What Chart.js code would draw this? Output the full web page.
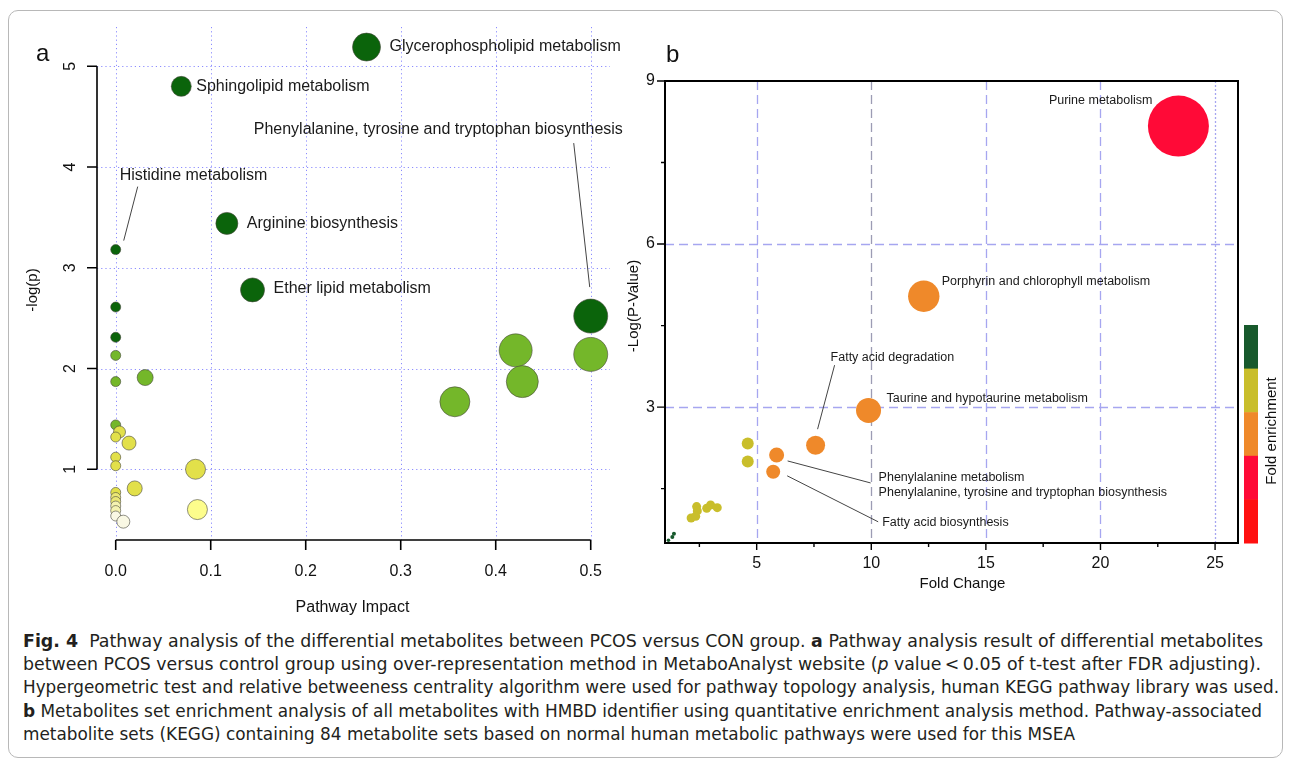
<!DOCTYPE html>
<html>
<head>
<meta charset="utf-8">
<script src="https://cdn.jsdelivr.net/npm/chart.js@4.4.1/dist/chart.umd.min.js"></script>
<style>
  body { margin: 0; background: #fff; width: 1290px; height: 768px; position: relative; overflow: hidden; }
  #frame { position: absolute; left: 8px; top: 10px; width: 1275px; height: 748px; border: 1px solid #b8b8b8; border-radius: 10px; box-sizing: border-box; }
  #boxA { position: absolute; left: 0; top: 0; width: 623px; height: 630px; }
  #boxB { position: absolute; left: 623px; top: 0; width: 667px; height: 630px; }
  .cap { position: absolute; left: 23px; white-space: nowrap; display: inline-block; font-family: 'Liberation Sans Narrow', 'DejaVu Sans Condensed', sans-serif; font-size: 18px; line-height: 20px; color: #231f20; transform-origin: 0 50%; }
</style>
</head>
<body>
<div id="frame"></div>
<div id="boxA"><canvas id="chartA"></canvas></div>
<div id="boxB"><canvas id="chartB"></canvas></div>

<div class="cap" style="top:631px" data-w="1240"><b>Fig. 4</b>&nbsp; Pathway analysis of the differential metabolites between PCOS versus CON group. <b>a</b> Pathway analysis result of differential metabolites</div>
<div class="cap" style="top:654px" data-w="1238">between PCOS versus control group using over-representation method in MetaboAnalyst website (<i>p</i> value&thinsp;&lt;&thinsp;0.05 of t-test after FDR adjusting).</div>
<div class="cap" style="top:677px" data-w="1256">Hypergeometric test and relative betweeness centrality algorithm were used for pathway topology analysis, human KEGG pathway library was used.</div>
<div class="cap" style="top:701px" data-w="1239"><b>b</b> Metabolites set enrichment analysis of all metabolites with HMBD identifier using quantitative enrichment analysis method. Pathway-associated</div>
<div class="cap" style="top:724px" data-w="1052">metabolite sets (KEGG) containing 84 metabolite sets based on normal human metabolic pathways were used for this MSEA</div>

<script>
// ---- panel a: pathway impact vs -log(p), ordered by -log(p) ----
const pathA = [
  'Glycerophospholipid metabolism', 'Sphingolipid metabolism', 'Arginine biosynthesis', 'Histidine metabolism',
  'Ether lipid metabolism', '', 'Phenylalanine, tyrosine and tryptophan biosynthesis', '',
  '', '', '', '', '', '', '', '',
  '', '', '', '', '', '', '', '',
  '', '', '', '', '', '', ''
];
const impactA = [0.264, 0.069, 0.117, 0, 0.144, 0, 0.5, 0,
  0.421, 0.5, 0, 0.031, 0, 0.428, 0.357, 0,
  0.004, 0, 0.014, 0, 0, 0.084, 0.02, 0,
  0, 0, 0, 0.086, 0, 0, 0.008];
const logpA = [5.19, 4.80, 3.44, 3.18, 2.78, 2.61, 2.52, 2.31,
  2.18, 2.14, 2.13, 1.91, 1.87, 1.87, 1.67, 1.44,
  1.37, 1.32, 1.26, 1.12, 1.035, 1.0, 0.81, 0.77,
  0.72, 0.68, 0.635, 0.60, 0.59, 0.536, 0.48];
const sizeA = [14, 10, 11, 5, 12, 5, 17, 5,
  16.5, 17, 5, 8, 5, 16, 15, 5,
  6, 5, 7, 5, 5, 10, 7.5, 5,
  5, 5, 5, 10, 5, 5, 6.5];
const groupA = [0, 0, 0, 0, 0, 0, 0, 0,
  1, 1, 1, 1, 1, 1, 1, 1,
  2, 2, 2, 2, 2, 2, 2, 2,
  3, 3, 4, 5, 4, 6, 6];
const impactTicks = [0, 0.1, 0.2, 0.3, 0.4, 0.5];
const logpTicks = [1, 2, 3, 4, 5];

// ---- panel b: fold change vs -log(p-value) ----
const pathB = [
  'Purine metabolism', 'Porphyrin and chlorophyll metabolism', 'Taurine and hypotaurine metabolism',
  'Fatty acid degradation', 'Phenylalanine metabolism\nPhenylalanine, tyrosine and tryptophan biosynthesis',
  'Fatty acid biosynthesis', '', '', '', '', '', '', '', '', '', '', '', ''
];
const foldB = [23.4, 12.29, 9.88, 7.57, 5.87, 5.72, 4.61, 4.61, 2.38, 2.41, 2.14, 2.34, 2.82, 2.99, 3.28, 1.39, 1.32, 1.15];
const logpB = [8.17, 5.04, 2.94, 2.30, 2.12, 1.81, 2.33, 2.00, 1.17, 1.09, 0.96, 0.99, 1.14, 1.20, 1.15, 0.67, 0.61, 0.55];
const sizeB = [30.5, 15.7, 12.5, 9.5, 7.5, 7, 6, 6, 4.5, 4.5, 4.5, 4.5, 4.5, 4.5, 4.5, 2, 2, 1.8];
const enrichB = [3, 2, 2, 2, 2, 2, 1, 1, 1, 1, 1, 1, 1, 1, 1, 0, 0, 0];
const foldTicks = [5, 10, 15, 20, 25];
const foldMinor = [2.5, 7.5, 12.5, 17.5, 22.5];
const logpBTicks = [3, 6, 9];
const logpBMinor = [1.5, 4.5, 7.5];

// styles
const paletteA = ['#0b640b', '#74b72a', '#e2e04a', '#ebe775', '#f4f2b0', '#fdfd8c', '#f9f8e4'];
const paletteB = ['#17592c', '#c9be2b', '#ef892a', '#ff0a37', '#ff1010'];
const FONT = '"Liberation Sans", Arial, sans-serif';

const labelLayoutA = {
  'Glycerophospholipid metabolism': { dx: 23, dy: 0 },
  'Sphingolipid metabolism': { dx: 15, dy: 0 },
  'Arginine biosynthesis': { dx: 20, dy: 0 },
  'Histidine metabolism': { dx: 4, dy: -74, lead: [22, -63, 8, -9] },
  'Ether lipid metabolism': { dx: 21, dy: -1 },
  'Phenylalanine, tyrosine and tryptophan biosynthesis': { dx: -337, dy: -187, lead: [-17, -173, -1, -29] }
};
const labelLayoutB = {
  'Purine metabolism': { dx: -26, dy: -26, align: 'right' },
  'Porphyrin and chlorophyll metabolism': { dx: 18, dy: -15 },
  'Taurine and hypotaurine metabolism': { dx: 18, dy: -12 },
  'Fatty acid degradation': { dx: 15, dy: -88, lead: [2, -16, 19, -80] },
  'Phenylalanine metabolism\nPhenylalanine, tyrosine and tryptophan biosynthesis': { dx: 102, dy: 23, lead: [11, 6, 94, 28] },
  'Fatty acid biosynthesis': { dx: 109, dy: 51, lead: [14, 4, 105, 50] }
};

function drawLabels(ctx, chart, names, layout, font, lineGap) {
  const meta = chart.getDatasetMeta(0);
  ctx.font = font;
  ctx.fillStyle = '#1a1a1a';
  ctx.strokeStyle = '#444';
  ctx.lineWidth = 1;
  ctx.textBaseline = 'middle';
  names.forEach((name, i) => {
    const l = layout[name];
    if (!name || !l) return;
    const p = meta.data[i];
    if (l.lead) {
      ctx.beginPath();
      ctx.moveTo(p.x + l.lead[0], p.y + l.lead[1]);
      ctx.lineTo(p.x + l.lead[2], p.y + l.lead[3]);
      ctx.stroke();
    }
    ctx.textAlign = l.align || 'left';
    name.split('\n').forEach((t, k) => ctx.fillText(t, p.x + l.dx, p.y + l.dy + k * lineGap));
  });
}

function rotText(ctx, text, x, y) {
  ctx.save();
  ctx.translate(x, y);
  ctx.rotate(-Math.PI / 2);
  ctx.fillText(text, 0, 0);
  ctx.restore();
}

const rStyleA = {
  id: 'rStyleA',
  beforeDatasetsDraw(chart) {
    const { ctx, chartArea: ca, scales: { x, y } } = chart;
    ctx.save();
    ctx.strokeStyle = '#8c8cff';
    ctx.lineWidth = 1;
    ctx.setLineDash([1.2, 3]);
    ctx.beginPath();
    impactTicks.forEach(v => {
      const px = Math.round(x.getPixelForValue(v)) + 0.5;
      ctx.moveTo(px, ca.top + 2); ctx.lineTo(px, ca.bottom);
    });
    logpTicks.forEach(v => {
      const py = Math.round(y.getPixelForValue(v)) + 0.5;
      ctx.moveTo(ca.left, py); ctx.lineTo(ca.right - 2, py);
    });
    ctx.stroke();
    ctx.restore();
  },
  afterDraw(chart) {
    const { ctx, chartArea: ca, scales: { x, y } } = chart;
    ctx.save();
    ctx.strokeStyle = '#000';
    ctx.lineWidth = 1.6;
    ctx.beginPath();
    const ax = ca.bottom;
    ctx.moveTo(x.getPixelForValue(impactTicks[0]), ax);
    ctx.lineTo(x.getPixelForValue(impactTicks[impactTicks.length - 1]), ax);
    impactTicks.forEach(v => { const px = x.getPixelForValue(v); ctx.moveTo(px, ax); ctx.lineTo(px, ax + 10); });
    ctx.moveTo(ca.left, y.getPixelForValue(logpTicks[0]));
    ctx.lineTo(ca.left, y.getPixelForValue(logpTicks[logpTicks.length - 1]));
    logpTicks.forEach(v => { const py = y.getPixelForValue(v); ctx.moveTo(ca.left, py); ctx.lineTo(ca.left - 10, py); });
    ctx.stroke();

    ctx.fillStyle = '#111';
    ctx.font = '16px ' + FONT;
    ctx.textAlign = 'center';
    ctx.textBaseline = 'middle';
    impactTicks.forEach(v => ctx.fillText(v.toFixed(1), x.getPixelForValue(v), ax + 32));
    logpTicks.forEach(v => rotText(ctx, String(v), ca.left - 26, y.getPixelForValue(v)));

    ctx.fillText('Pathway Impact', (ca.left + ca.right) / 2 - 2, ax + 68);
    ctx.font = '15px ' + FONT;
    rotText(ctx, '-log(p)', 33, 290);

    ctx.font = '24px ' + FONT;
    ctx.textAlign = 'left';
    ctx.textBaseline = 'alphabetic';
    ctx.fillText('a', 36, 61);

    drawLabels(ctx, chart, pathA, labelLayoutA, '16px ' + FONT, 16);
    ctx.restore();
  }
};

const frameB = {
  id: 'frameB',
  beforeDatasetsDraw(chart) {
    const { ctx, chartArea: ca, scales: { x, y } } = chart;
    ctx.save();
    ctx.lineWidth = 1.3;
    foldTicks.forEach(v => {
      const px = Math.round(x.getPixelForValue(v)) + 0.5;
      ctx.strokeStyle = v === 10 ? '#9c9cb4' : '#a6a6f0';
      ctx.setLineDash(v === 25 ? [2, 2] : [9, 5]);
      ctx.beginPath(); ctx.moveTo(px, ca.top); ctx.lineTo(px, ca.bottom); ctx.stroke();
    });
    ctx.strokeStyle = '#a6a6f0';
    ctx.setLineDash([9, 5]);
    logpBTicks.filter(v => v < 9).forEach(v => {
      const py = Math.round(y.getPixelForValue(v)) + 0.5;
      ctx.beginPath(); ctx.moveTo(ca.left, py); ctx.lineTo(ca.right, py); ctx.stroke();
    });
    ctx.restore();
  },
  afterDraw(chart) {
    const { ctx, chartArea: ca, scales: { x, y } } = chart;
    ctx.save();
    ctx.strokeStyle = '#000';
    ctx.lineWidth = 2;
    ctx.strokeRect(ca.left, ca.top, ca.right - ca.left, ca.bottom - ca.top);
    ctx.lineWidth = 1.4;
    ctx.beginPath();
    foldTicks.forEach(v => { const px = x.getPixelForValue(v); ctx.moveTo(px, ca.bottom); ctx.lineTo(px, ca.bottom + 7); });
    foldMinor.forEach(v => { const px = x.getPixelForValue(v); ctx.moveTo(px, ca.bottom); ctx.lineTo(px, ca.bottom + 4); });
    logpBTicks.forEach(v => { const py = y.getPixelForValue(v); ctx.moveTo(ca.left, py); ctx.lineTo(ca.left - 8, py); });
    logpBMinor.forEach(v => { const py = y.getPixelForValue(v); ctx.moveTo(ca.left, py); ctx.lineTo(ca.left - 4, py); });
    ctx.stroke();

    ctx.fillStyle = '#111';
    ctx.font = '16px ' + FONT;
    ctx.textBaseline = 'middle';
    ctx.textAlign = 'center';
    foldTicks.forEach(v => ctx.fillText(String(v), x.getPixelForValue(v), ca.bottom + 21));
    ctx.textAlign = 'right';
    logpBTicks.forEach(v => ctx.fillText(String(v), ca.left - 10, y.getPixelForValue(v)));

    ctx.textAlign = 'center';
    ctx.font = '15px ' + FONT;
    ctx.fillText('Fold Change', (ca.left + ca.right) / 2 + 11, ca.bottom + 41);
    rotText(ctx, '-Log(P-Value)', 11, 306);

    // fold enrichment colour key, dark green on top down to red
    const segH = 43.6, top = 325, left = ca.right + 6;
    paletteB.forEach((c, k) => {
      ctx.fillStyle = c;
      ctx.fillRect(left, top + k * segH, 14, segH + 0.5);
    });
    ctx.fillStyle = '#111';
    rotText(ctx, 'Fold enrichment', left + 28, 431);

    ctx.font = '24px ' + FONT;
    ctx.textAlign = 'left';
    ctx.textBaseline = 'alphabetic';
    ctx.fillText('b', 43, 62);

    drawLabels(ctx, chart, pathB, labelLayoutB, '12.5px ' + FONT, 15);
    ctx.restore();
  }
};

const hiddenScale = (min, max) => ({ type: 'linear', display: false, min, max });
const baseOpts = {
  responsive: true,
  maintainAspectRatio: false,
  animation: false,
  events: [],
  plugins: { legend: { display: false }, tooltip: { enabled: false } }
};

new Chart(document.getElementById('chartA'), {
  type: 'bubble',
  data: {
    datasets: [{
      data: impactA.map((v, i) => ({ x: v, y: logpA[i], r: sizeA[i] })),
      backgroundColor: groupA.map(g => paletteA[g]),
      borderColor: 'rgba(70,70,60,0.75)',
      borderWidth: 0.8,
      clip: false
    }]
  },
  options: Object.assign({}, baseOpts, {
    layout: { autoPadding: false, padding: { left: 97, right: 11, top: 25, bottom: 90 } },
    scales: { x: hiddenScale(-0.0197, 0.5224), y: hiddenScale(0.298, 5.409) }
  }),
  plugins: [rStyleA]
});

new Chart(document.getElementById('chartB'), {
  type: 'bubble',
  data: {
    datasets: [{
      data: foldB.map((v, i) => ({ x: v, y: logpB[i], r: sizeB[i] })),
      backgroundColor: enrichB.map(g => paletteB[g]),
      borderWidth: 0,
      clip: false
    }]
  },
  options: Object.assign({}, baseOpts, {
    layout: { autoPadding: false, padding: { left: 42, right: 52, top: 81, bottom: 87 } },
    scales: { x: hiddenScale(1, 26), y: hiddenScale(0.5, 9) }
  }),
  plugins: [frameB]
});

// squeeze each caption line to the width it has in the figure
document.fonts.ready.then(() => {
  document.querySelectorAll('.cap').forEach(el => {
    const w = el.getBoundingClientRect().width;
    el.style.transform = 'scaleX(' + (Number(el.dataset.w) / w) + ')';
  });
});
</script>
</body>
</html>
